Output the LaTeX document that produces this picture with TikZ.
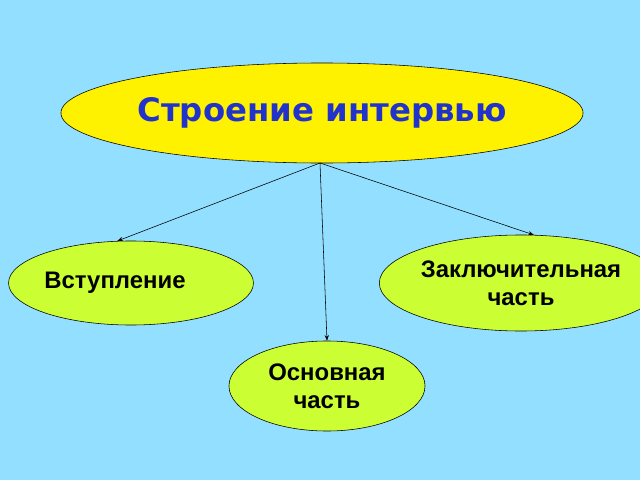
\documentclass[tikz,border=0pt]{standalone}
\usepackage{fontspec}
\setmainfont{Liberation Sans}
\newfontfamily\titlefont{DejaVu Sans}
\usetikzlibrary{arrows.meta,shapes.geometric}
\definecolor{skyblue}{HTML}{93DFFF}
\definecolor{lime}{HTML}{CCFF33}
\definecolor{titleblue}{HTML}{2233CC}
\tikzset
{
    % Style for the main topic
    topic/.style=
    {
        draw=black,
        fill=yellow,
        ellipse,
        inner sep=0pt,
        minimum width=13cm,
        minimum height=2.5cm,
        font=\titlefont\fontsize{23}{27}\selectfont,
        text=titleblue
    },
    % Style for the parts
    part/.style=
    {
        draw=black,
        fill=lime,
        ellipse,
        inner sep=0pt,
        align=center,
        font=\bfseries\fontsize{17}{20}\selectfont
    },
    % Style for connectors
    link/.style=
    {
        thin,
        -{Stealth[length=4pt,width=3pt]}
    }
}
\begin{document}
\begin{tikzpicture}[x=0.025cm,y=-0.025cm]
    % Background
    \fill[skyblue] (0,0) rectangle (640,480);
    \useasboundingbox (0,0) rectangle (640,480);

    % Main topic
    \node (topic) [topic] at (322,113) {\textbf{Строение интервью}};

    % Parts
    \node (intro) [part,minimum width=4.4cm,minimum height=2.1cm] at (131,283) {Вступление\hspace*{0.8cm}};
    \node (main) [part,minimum width=4.9cm,minimum height=2.25cm] at (327,386) {Основная\\часть};
    \node (final) [part,minimum width=5.3cm,minimum height=2.4cm] at (521,283) {Заключительная\\часть};

    % Connectors
    \coordinate (hub) at (320,163);
    \draw[link] (hub) -- (intro.108);
    \draw[link] (hub) -- (main.north);
    \draw[link] (hub) -- (final.75);
\end{tikzpicture}
\end{document}
